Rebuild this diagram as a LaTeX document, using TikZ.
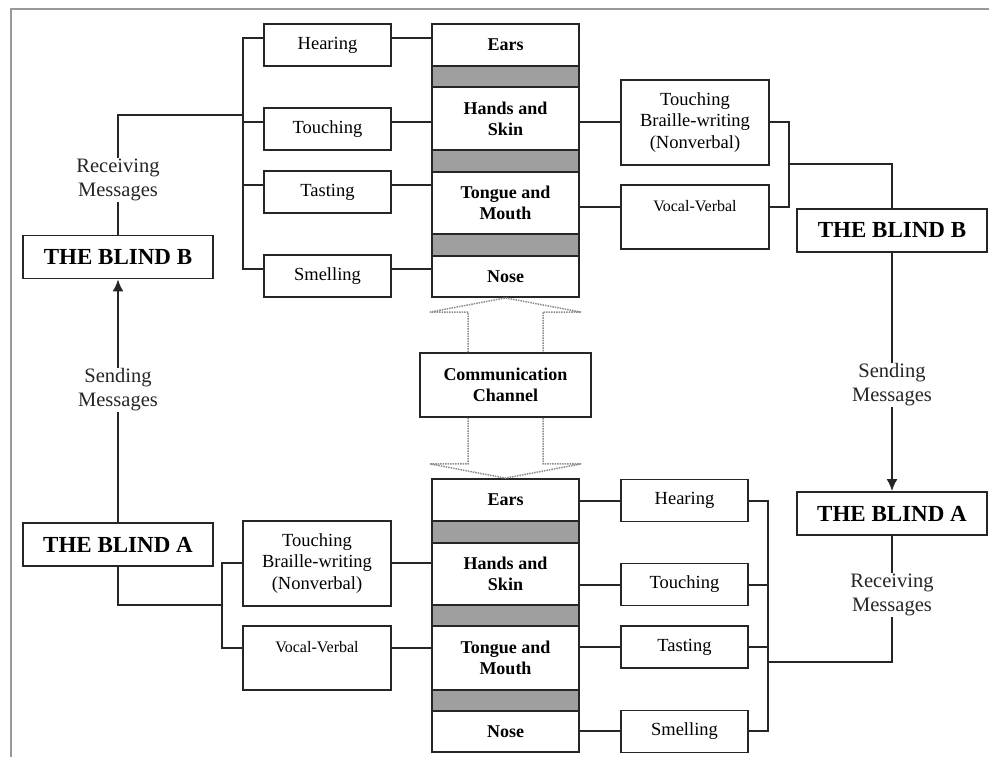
\documentclass[tikz,border=0pt]{standalone}
\usepackage{fontspec}
\setmainfont{Liberation Serif}
\usetikzlibrary{arrows.meta,calc}
\begin{document}
\begin{tikzpicture}[x=1pt,y=-1pt,
  box/.style={draw=black!85, line width=1.8pt, inner sep=0pt, align=center, font=\fontsize{18.5}{21.7}\selectfont},
  organ/.style={box, minimum width=147pt, font=\bfseries\fontsize{18}{21}\selectfont},
  band/.style={draw=black!85, line width=1.8pt, fill=gray!75, minimum width=147pt, inner sep=0pt},
  sense/.style={box, minimum width=127pt, minimum height=42pt},
  mode/.style={box, minimum width=148pt},
  blind/.style={box, minimum width=190pt, minimum height=43pt, font=\bfseries\fontsize{23}{26}\selectfont},
  msg/.style={align=center, inner sep=1pt, fill=white, text=black!85, font=\fontsize{20.5}{24}\selectfont},
  wire/.style={draw=black!85, line width=1.8pt},
  chan/.style={gray!90, densely dotted, line width=1.5pt},
  arr/.style={wire, -{Latex[length=12pt,width=11pt]}}]
\useasboundingbox (0,0) rectangle (989,757);
\draw[gray!80, line width=1.5pt] (11,757) -- (11,9) -- (989,9);

% top stack
\node[organ, minimum height=42pt] (earsT) at (505.5,45) {Ears};
\node[band, minimum height=21pt] (g1T) at (505.5,76.5) {};
\node[organ, minimum height=63pt] (handsT) at (505.5,118.5) {Hands and\\Skin};
\node[band, minimum height=22pt] (g2T) at (505.5,161) {};
\node[organ, minimum height=62pt] (tongueT) at (505.5,203) {Tongue and\\Mouth};
\node[band, minimum height=22pt] (g3T) at (505.5,245) {};
\node[organ, minimum height=41pt] (noseT) at (505.5,276.5) {Nose};

% top left senses
\node[sense] (hearT) at (327.5,45) {Hearing};
\node[sense] (touchT) at (327.5,129) {Touching};
\node[sense] (tasteT) at (327.5,192) {Tasting};
\node[sense] (smellT) at (327.5,276) {Smelling};

% top right modes
\node[mode, minimum height=85pt] (brailleR) at (695,122.5) {Touching\\Braille-writing\\(Nonverbal)};
\node[mode, minimum height=64pt, font=\fontsize{16}{22}\selectfont] (vocalR) at (695,217) {Vocal-Verbal\\\mbox{}};

% blind boxes
\node[blind] (blindBL) at (118,257) {THE BLIND B};
\node[blind] (blindAL) at (118,544.5) {THE BLIND A};
\node[blind] (blindBR) at (892,230.5) {THE BLIND B};
\node[blind] (blindAR) at (892,513.5) {THE BLIND A};

% bottom stack
\node[organ, minimum height=42pt] (earsB) at (505.5,500) {Ears};
\node[band, minimum height=22pt] (g1B) at (505.5,532) {};
\node[organ, minimum height=62pt] (handsB) at (505.5,574) {Hands and\\Skin};
\node[band, minimum height=21pt] (g2B) at (505.5,615.5) {};
\node[organ, minimum height=64pt] (tongueB) at (505.5,658) {Tongue and\\Mouth};
\node[band, minimum height=21pt] (g3B) at (505.5,700.5) {};
\node[organ, minimum height=41pt] (noseB) at (505.5,731.5) {Nose};

% bottom left modes
\node[mode, minimum height=85pt] (brailleL) at (317,563.5) {Touching\\Braille-writing\\(Nonverbal)};
\node[mode, minimum height=64pt, font=\fontsize{16}{22}\selectfont] (vocalL) at (317,658) {Vocal-Verbal\\\mbox{}};

% bottom right senses
\node[sense] (hearB) at (684.5,500.5) {Hearing};
\node[sense] (touchB) at (684.5,584.5) {Touching};
\node[sense] (tasteB) at (684.5,647) {Tasting};
\node[sense] (smellB) at (684.5,731.5) {Smelling};

% channel
\node[box, minimum width=171pt, minimum height=64pt, font=\bfseries\fontsize{18}{21}\selectfont] (cc) at (505.5,385) {Communication\\Channel};
\draw[chan] ($(cc.north)+(-37.5,0)$) -- ++(0,-40) -- ++(-38,0) -- (noseT.south)
  -- ($(cc.north)+(75.5,-40)$) -- ++(-38,0) -- ($(cc.north)+(37.5,0)$);
\draw[chan] ($(cc.south)+(-37.5,0)$) -- ++(0,46) -- ++(-38,0) -- (earsB.north)
  -- ($(cc.south)+(75.5,46)$) -- ++(-38,0) -- ($(cc.south)+(37.5,0)$);

% top connectors
\draw[wire] (hearT.east |- 0,38) -- (earsT.west |- 0,38);
\draw[wire] (touchT.east |- 0,122) -- (handsT.west |- 0,122);
\draw[wire] (tasteT.east |- 0,185) -- (tongueT.west |- 0,185);
\draw[wire] (smellT.east |- 0,269) -- (noseT.west |- 0,269);
\draw[wire] (hearT.west |- 0,38) -| (243,269) -- (smellT.west |- 0,269);
\draw[wire] (touchT.west |- 0,122) -- (243,122);
\draw[wire] (tasteT.west |- 0,185) -- (243,185);

\node[msg] (recvB) at (118,180) {Receiving\\Messages};
\draw[wire] (243,115) -| (recvB.north);
\draw[wire] (recvB.south) -- (blindBL.north);

\draw[wire] (handsT.east |- 0,122) -- (brailleR.west |- 0,122);
\draw[wire] (tongueT.east |- 0,207) -- (vocalR.west |- 0,207);
\draw[wire] (brailleR.east |- 0,122) -| (789,207) -- (vocalR.east |- 0,207);
\draw[wire] (789,164) -| (blindBR.north);

% sending arrows
\draw[arr] (blindAL.north) -- (blindBL.south);
\node[msg] (sendL) at (118,390) {Sending\\Messages};
\draw[arr] (blindBR.south) -- (blindAR.north);
\node[msg] (sendR) at (892,385) {Sending\\Messages};

% bottom left connectors
\draw[wire] (blindAL.south) |- (222,605);
\draw[wire] (brailleL.west |- 0,563) -| (222,648) -- (vocalL.west |- 0,648);
\draw[wire] (brailleL.east |- 0,563) -- (handsB.west |- 0,563);
\draw[wire] (vocalL.east |- 0,648) -- (tongueB.west |- 0,648);

% bottom right connectors
\draw[wire] (earsB.east |- 0,501) -- (hearB.west |- 0,501);
\draw[wire] (handsB.east |- 0,585) -- (touchB.west |- 0,585);
\draw[wire] (tongueB.east |- 0,647) -- (tasteB.west |- 0,647);
\draw[wire] (noseB.east |- 0,731) -- (smellB.west |- 0,731);
\draw[wire] (hearB.east |- 0,501) -| (768,731) -- (smellB.east |- 0,731);
\draw[wire] (touchB.east |- 0,585) -- (768,585);
\draw[wire] (tasteB.east) -- (768,647);
\node[msg] (recvA) at (892,595) {Receiving\\Messages};
\draw[wire] (768,662) -| (recvA.south);
\draw[wire] (recvA.north) -- (blindAR.south);
\end{tikzpicture}
\end{document}
